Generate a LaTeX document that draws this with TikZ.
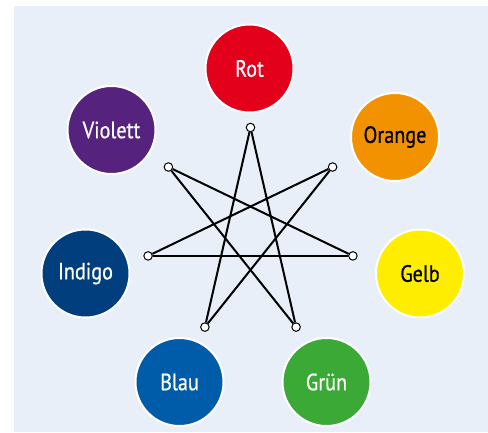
\documentclass[tikz,border=0pt]{standalone}
\usepackage{fontspec}
\setmainfont{PT Sans}
\newfontfamily\discfont[FakeStretch=0.86, FakeBold=0.6]{PT Sans}
\usetikzlibrary{positioning}

\definecolor{bgblue}{HTML}{E8EFF8}
\definecolor{rot}{HTML}{E2001A}
\definecolor{orange}{HTML}{F39200}
\definecolor{gelb}{HTML}{FFED00}
\definecolor{gruen}{HTML}{3AA935}
\definecolor{blau}{HTML}{005CA9}
\definecolor{indigo}{HTML}{003E7E}
\definecolor{violett}{HTML}{55237E}

\begin{document}
\begin{tikzpicture}[
x=1pt, y=-1pt,
disc/.style={circle, draw=white, line width=2pt, minimum size=88pt, inner sep=0pt, text=white, font=\discfont\fontsize{23.5}{23.5}\selectfont},
dot/.style={circle, draw, fill=white, line width=1pt, minimum size=8.5pt, inner sep=0pt},
link/.style={line width=2pt}
]

\useasboundingbox (0,0) rectangle (488,432);
\fill[bgblue] (14,6) rectangle (488,432);

% colour circle
\node[disc, fill=rot] (rot) at (249.5,68.5) {Rot};
\node[disc, fill=orange, text=black] (orange) at (395,137) {Orange};
\node[disc, fill=gelb, text=black] (gelb) at (420,273.5) {Gelb};
\node[disc, fill=gruen] (gruen) at (326.5,382) {Grün};
\node[disc, fill=blau] (blau) at (179.5,382) {Blau};
\node[disc, fill=indigo] (indigo) at (85.5,273.5) {Indigo};
\node[disc, fill=violett] (violett) at (111.5,130) {Violett};

% star points
\node[dot] (p0) at (250.5,127.5) {};
\node[dot] (p1) at (332.6,167) {};
\node[dot] (p2) at (352.9,255.9) {};
\node[dot] (p3) at (296.1,327.1) {};
\node[dot] (p4) at (204.9,327.1) {};
\node[dot] (p5) at (148.1,255.9) {};
\node[dot] (p6) at (168.4,167) {};

\draw[link] (p0) -- (p3);
\draw[link] (p3) -- (p6);
\draw[link] (p6) -- (p2);
\draw[link] (p2) -- (p5);
\draw[link] (p5) -- (p1);
\draw[link] (p1) -- (p4);
\draw[link] (p4) -- (p0);

\end{tikzpicture}
\end{document}
